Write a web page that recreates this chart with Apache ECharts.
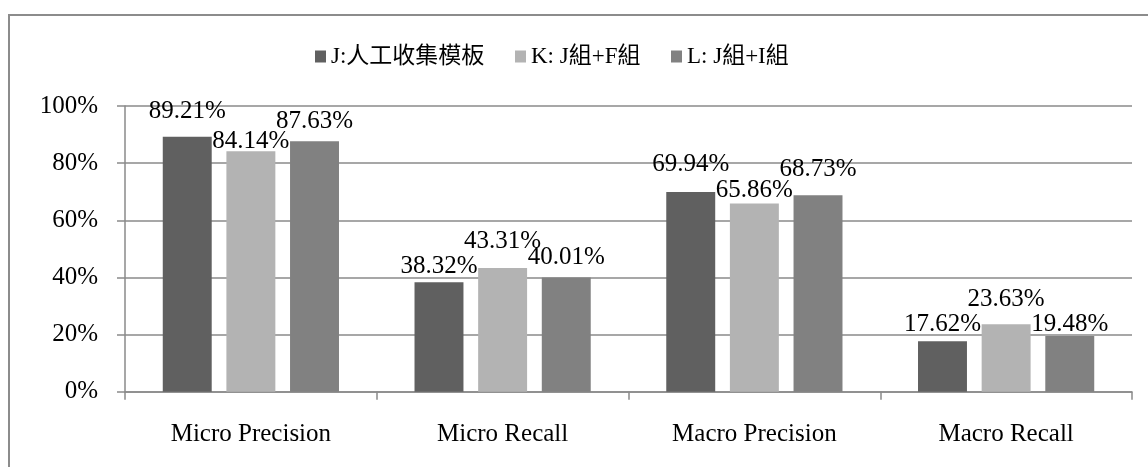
<!DOCTYPE html>
<html>
<head>
<meta charset="utf-8">
<script src="https://cdn.jsdelivr.net/npm/echarts@6/dist/echarts.min.js"></script>
<style>
  html, body { margin: 0; padding: 0; background: #fff; }
  #chart { width: 1148px; height: 467px; }
</style>
</head>
<body>
<div id="chart"></div>
<script>
// Categories and series values (percent)
const categories = ['Micro Precision', 'Micro Recall', 'Macro Precision', 'Macro Recall'];
const seriesNames = ['J:人工收集模板', 'K: J組+F組', 'L: J組+I組'];
const valuesJ = [89.21, 38.32, 69.94, 17.62];
const valuesK = [84.14, 43.31, 65.86, 23.63];
const valuesL = [87.63, 40.01, 68.73, 19.48];
const yTicks = [0, 20, 40, 60, 80, 100];

// Gap (px) between each bar top and its value label, so labels do not collide
const liftJ = [13, 3, 15, 4];
const liftK = [-3, 14, 1, 12];
const liftL = [7, 7, 13, -1];

const colors = ['#606060', '#b3b3b3', '#818181'];
const serif = "'Liberation Serif', 'Times New Roman', 'Noto Sans CJK TC', serif";
const axisGray = '#8a8a8a';

function makeSeries(name, values, lifts, color) {
  return {
    name: name,
    type: 'bar',
    barGap: '30%',
    barCategoryGap: '30%',
    itemStyle: { color: color },
    data: values.map((v, i) => ({
      value: v,
      label: { distance: lifts[i] }
    })),
    label: {
      show: true,
      position: 'top',
      color: '#000',
      fontFamily: serif,
      fontSize: 25,
      formatter: p => p.value.toFixed(2) + '%'
    }
  };
}

const legendLefts = [310, 510, 666];

const chart = echarts.init(document.getElementById('chart'), null, { renderer: 'canvas' });
chart.setOption({
  animation: false,
  backgroundColor: '#fff',
  graphic: [{
    type: 'rect',
    shape: { x: 9, y: 15, width: 1160, height: 480 },
    style: { fill: 'none', stroke: '#8c8c8c', lineWidth: 2 },
    silent: true
  }],
  legend: seriesNames.map((n, i) => ({
    data: [n],
    left: legendLefts[i],
    top: 40,
    icon: 'rect',
    itemWidth: 11,
    itemHeight: 12,
    itemGap: 6,
    textStyle: { fontFamily: serif, fontSize: 23, color: '#000' },
    selectedMode: false
  })),
  grid: { left: 125, right: 16, top: 106, bottom: 75.3, containLabel: false },
  xAxis: {
    type: 'category',
    data: categories,
    axisLine: { lineStyle: { color: axisGray, width: 1.5 } },
    axisTick: { show: true, length: 8, alignWithLabel: false, lineStyle: { color: axisGray, width: 1.5 } },
    axisLabel: { color: '#000', fontFamily: serif, fontSize: 25, margin: 30 }
  },
  yAxis: {
    type: 'value',
    min: yTicks[0],
    max: yTicks[yTicks.length - 1],
    interval: yTicks[1] - yTicks[0],
    axisLine: { show: true, lineStyle: { color: axisGray, width: 1.5 } },
    axisTick: { show: true, length: 8, inside: false, lineStyle: { color: axisGray, width: 1.5 } },
    splitLine: { show: true, lineStyle: { color: axisGray, width: 1.5 } },
    axisLabel: {
      color: '#000', fontFamily: serif, fontSize: 25, margin: 27,
      formatter: v => v + '%'
    }
  },
  series: [
    makeSeries(seriesNames[0], valuesJ, liftJ, colors[0]),
    makeSeries(seriesNames[1], valuesK, liftK, colors[1]),
    makeSeries(seriesNames[2], valuesL, liftL, colors[2])
  ]
});
</script>
</body>
</html>
